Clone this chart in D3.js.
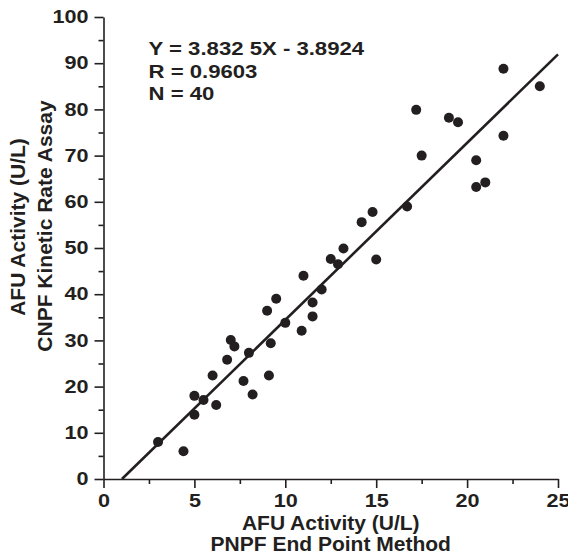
<!DOCTYPE html>
<html>
<head>
<meta charset="utf-8">
<script src="https://cdn.jsdelivr.net/npm/d3@7"></script>
<style>
  body { margin: 0; background: #fff; }
  svg text { font-family: "Liberation Sans", Arial, sans-serif; font-weight: bold; fill: #231f20; }
  .axis path, .axis line { stroke: #231f20; stroke-width: 1.6; }
</style>
</head>
<body>
<div id="chart"></div>
<script>
var svgWidth = 568;
var svgHeight = 555;

var margin = { top: 17, right: 10, bottom: 76, left: 103.5 };
var width = 558 - margin.left;
var height = 479 - margin.top;

// data
var pnpfValues = [22, 24, 17.2, 19, 19.5, 22, 17.5, 20.5, 20.5, 21,
  16.7, 14.8, 14.2, 13.2, 12.5, 12.9, 15, 11, 12, 11.5,
  11.5, 10.9, 9.5, 9, 10, 7, 7.2, 9.2, 8, 6.8,
  6, 9.1, 7.7, 8.2, 5, 5.5, 6.2, 5, 3, 4.4];
var cnpfValues = [88.8, 85, 79.9, 78.2, 77.2, 74.3, 70, 69, 63.2, 64.2,
  59, 57.8, 55.6, 49.9, 47.6, 46.5, 47.5, 44, 41, 38.2,
  35.2, 32.1, 39, 36.4, 33.8, 30.1, 28.7, 29.4, 27.3, 25.8,
  22.4, 22.4, 21.2, 18.3, 18, 17.1, 16, 13.9, 8, 6];
var xTicks = [0, 5, 10, 15, 20, 25];
var xMinorTicks = [2.5, 7.5, 12.5, 17.5, 22.5];
var yTicks = [0, 10, 20, 30, 40, 50, 60, 70, 80, 90, 100];
var yMinorTicks = [5, 15, 25, 35, 45, 55, 65, 75, 85, 95];
var slope = 3.8325;
var intercept = -3.8924;
var statsLines = ["Y = 3.832 5X - 3.8924", "R = 0.9603", "N = 40"];

var points = pnpfValues.map(function(d, i) { return { x: d, y: cnpfValues[i] }; });

// the figure's type is wider than Arial, so stretch text a little
function widen(sel, k) {
  sel.each(function() {
    var len = this.getComputedTextLength();
    d3.select(this).attr("textLength", len * k).attr("lengthAdjust", "spacingAndGlyphs");
  });
}

var svg = d3.select("#chart")
  .append("svg")
  .attr("width", svgWidth)
  .attr("height", svgHeight);

var chartGroup = svg.append("g")
  .attr("transform", `translate(${margin.left}, ${margin.top})`);

var xLinearScale = d3.scaleLinear().domain([0, 25]).range([0, width]);
var yLinearScale = d3.scaleLinear().domain([0, 100]).range([height, 0]);

// minor ticks first so major axis sits on top
chartGroup.append("g")
  .attr("class", "axis")
  .attr("transform", `translate(0, ${height})`)
  .call(d3.axisBottom(xLinearScale).tickValues(xMinorTicks).tickSize(5).tickFormat(""))
  .select(".domain").remove();

chartGroup.append("g")
  .attr("class", "axis")
  .call(d3.axisLeft(yLinearScale).tickValues(yMinorTicks).tickSize(5).tickFormat(""))
  .select(".domain").remove();

var xAxis = chartGroup.append("g")
  .attr("class", "axis")
  .attr("transform", `translate(0, ${height})`)
  .call(d3.axisBottom(xLinearScale).tickValues(xTicks).tickSize(9).tickSizeOuter(0).tickPadding(6));

var yAxis = chartGroup.append("g")
  .attr("class", "axis")
  .call(d3.axisLeft(yLinearScale).tickValues(yTicks).tickSize(9).tickSizeOuter(0).tickPadding(6));

xAxis.selectAll("text").style("font-size", "18px").attr("fill", "#231f20").call(widen, 1.2);
yAxis.selectAll("text").style("font-size", "18px").attr("fill", "#231f20").call(widen, 1.2);

// regression line, clipped to the plot at y = 0
var xStart = -intercept / slope;
var xEnd = 25;
chartGroup.append("line")
  .attr("x1", xLinearScale(xStart))
  .attr("y1", yLinearScale(slope * xStart + intercept))
  .attr("x2", xLinearScale(xEnd))
  .attr("y2", yLinearScale(slope * xEnd + intercept))
  .attr("stroke", "#231f20")
  .attr("stroke-width", 2.6);

chartGroup.selectAll("circle")
  .data(points)
  .enter()
  .append("circle")
  .attr("cx", d => xLinearScale(d.x))
  .attr("cy", d => yLinearScale(d.y))
  .attr("r", 5)
  .attr("fill", "#231f20");

// stats text
chartGroup.append("g").selectAll("text")
  .data(statsLines)
  .enter()
  .append("text")
  .attr("x", 45)
  .attr("y", (d, i) => 38 + i * 22.7)
  .style("font-size", "18px")
  .text(d => d)
  .call(widen, 1.23);

// x axis title
var xlabelsGroup = svg.append("g")
  .attr("transform", `translate(${margin.left + width / 2}, 0)`)
  .attr("text-anchor", "middle");
xlabelsGroup.append("text").attr("y", 530).style("font-size", "21px").text("AFU Activity (U/L)");
xlabelsGroup.append("text").attr("y", 551).style("font-size", "21px").text("PNPF End Point Method");

// y axis title
var ylabelsGroup = svg.append("g")
  .attr("transform", "rotate(-90)")
  .attr("text-anchor", "middle");
ylabelsGroup.append("text").attr("x", -227).attr("y", 25).style("font-size", "21px").text("AFU Activity (U/L)");
ylabelsGroup.append("text").attr("x", -226).attr("y", 52).style("font-size", "21px").text("CNPF Kinetic Rate Assay");
</script>
</body>
</html>
